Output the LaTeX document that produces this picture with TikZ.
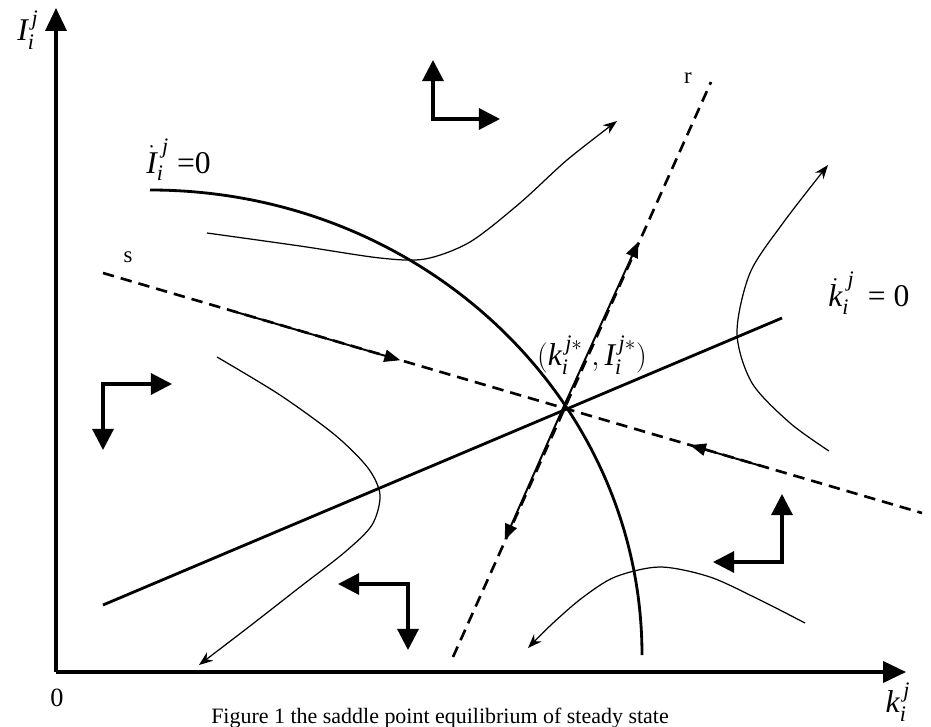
\documentclass[tikz,border=0pt]{standalone}
\usepackage{amsmath}
\usepackage{fontspec}
\setmainfont{Liberation Serif}
\usetikzlibrary{arrows.meta,calc}
\tikzset{
axisline/.style={line width=1.8pt, -{Triangle[length=13pt,width=12pt]}},
nullcline/.style={line width=1.6pt},
saddleline/.style={line width=1.5pt, dash pattern=on 6.5pt off 4pt},
saddlearrow/.style={line width=1.1pt, -{Triangle[length=9pt,width=7pt]}},
trajline/.style={line width=0.7pt, -{Stealth[length=8pt,width=6pt]}},
phasearrow/.style={line width=1.8pt, {Triangle[length=12pt,width=12pt]}-{Triangle[length=12pt,width=12pt]}},
lbl/.style={inner sep=0pt, font=\fontsize{18}{20}\selectfont},
smalllbl/.style={inner sep=0pt, font=\fontsize{13}{15}\selectfont}
}
\newcommand{\vi}[1]{\textit{#1}}

\begin{document}
\begin{tikzpicture}[x=0.02cm,y=-0.02cm]
\useasboundingbox (0,0) rectangle (931,727);
% axes
\coordinate (O) at (56,672);
\coordinate (ytop) at (56,8);
\coordinate (xend) at (906,672);
\draw[axisline] (O) -- (ytop);
\draw[axisline] (O) -- (xend);
\node[lbl] (ylab) at (28,30) {$\vi{I}_{\vi{i}}^{\kern2pt\vi{j}}$};
\node[lbl] (xlab) at (898,702) {$\vi{k}_{\vi{i}}^{\kern2pt\vi{j}}$};
\node[smalllbl, font=\fontsize{15}{17}\selectfont] (zero) at (57,698) {0};

% steady state and saddle paths
\coordinate (E) at (563,408);
\coordinate (sL) at (103,273);
\coordinate (sR) at (922,513);
\coordinate (rT) at (711,82);
\coordinate (rB) at (453,657);
\draw[saddleline] (sL) -- (sR);
\draw[saddleline] (rB) -- (rT);
\draw[saddlearrow] (E) -- ($(E)!0.51!(rT)$);
\draw[saddlearrow] (E) -- ($(E)!0.53!(rB)$);
\draw[saddlearrow] ($(E)!0.72!(sL)$) -- ($(E)!0.354!(sL)$);
\draw[saddlearrow] ($(E)!0.55!(sR)$) -- ($(E)!0.354!(sR)$);
\node[smalllbl] (slab) at (128,257) {s};
\node[smalllbl] (rlab) at (688,78) {r};

% nullclines
\coordinate (kL) at (103,605);
\coordinate (kR) at (782,318);
\draw[nullcline] (kL) -- (kR);
\draw[nullcline] (150,190) arc[start angle=-90, end angle=0, x radius=492, y radius=465];
\node[lbl, anchor=west] (Idot) at (146,160) {$\dot{\vi{I}}_{\vi{i}}^{\kern3pt\vi{j}}$ =0};
\node[lbl, anchor=west] (kdot) at (828,293) {$\dot{\vi{k}}_{\vi{i}}^{\kern3pt\vi{j}}$\, = 0};
\node[lbl] (Elab) at (592,355) {$(\vi{k}_{\vi{i}}^{\kern2pt\vi{j}*}\;,\vi{I}_{\vi{i}}^{\kern2pt\vi{j}*})$};

% trajectories
\draw[trajline] plot[smooth] coordinates {(207,233) (300,246) (380,258) (425,259) (470,242) (520,203) (567,160) (617,121)};
\draw[trajline] plot[smooth] coordinates {(829,451) (790,423) (752,383) (737,333) (750,273) (783,223) (828,165)};
\draw[trajline] plot[smooth] coordinates {(217,357) (280,395) (335,435) (368,468) (380,495) (372,525) (345,552) (300,587) (250,626) (199,665)};
\draw[trajline] plot[smooth] coordinates {(805,623) (760,600) (710,577) (660,567) (615,577) (582,598) (552,624) (528,648)};

% direction arrows
\coordinate (aC) at (433,119);
\coordinate (bC) at (103,384);
\coordinate (cC) at (408,584);
\coordinate (dC) at (782,562);
\draw[phasearrow] (433,60) -- (aC) -- (500,119);
\draw[phasearrow] (172,384) -- (bC) -- (103,450);
\draw[phasearrow] (338,584) -- (cC) -- (408,650);
\draw[phasearrow] (782,494) -- (dC) -- (713,562);

\node[font=\fontsize{12.5}{14}\selectfont, inner sep=0pt] (caption) at (440,718) {Figure 1 the saddle point equilibrium of steady state};
\end{tikzpicture}
\end{document}
